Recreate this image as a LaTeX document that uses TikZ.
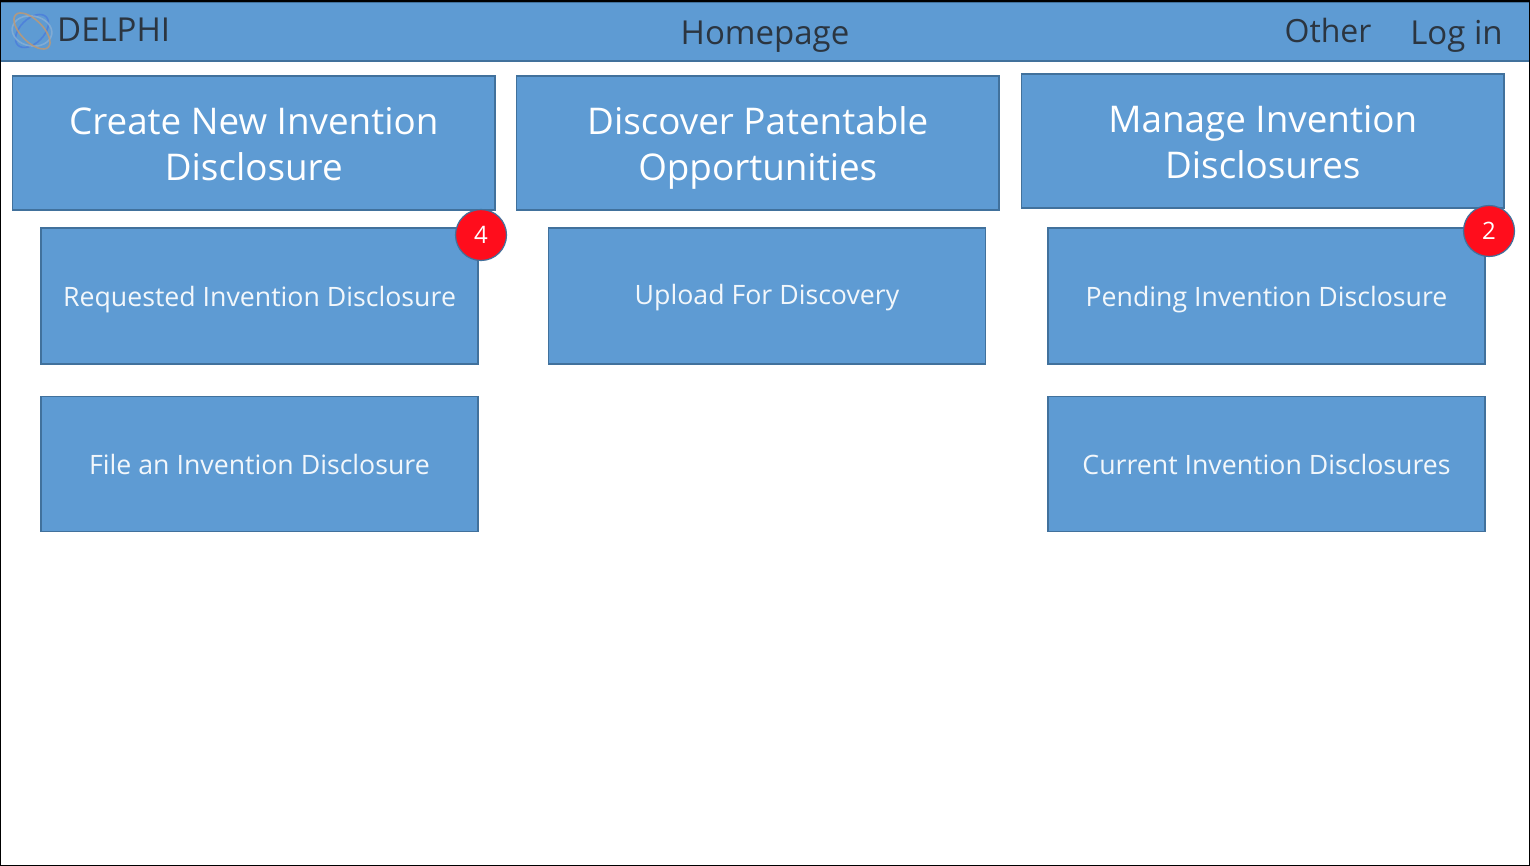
\documentclass[tikz,border=0pt]{standalone}
\usepackage{fontspec}
\setmainfont{Open Sans}
\usetikzlibrary{positioning}
\definecolor{tile}{HTML}{5E9BD3}
\definecolor{tileedge}{HTML}{41719C}
\definecolor{ink}{HTML}{2B3540}
\definecolor{badge}{HTML}{FF0D1C}
\tikzset{
  font=\rmfamily,
  bar/.style={draw=tileedge, line width=1.5pt, fill=tile, minimum width=1530pt, minimum height=59pt, inner sep=0pt},
  navlbl/.style={text=ink, inner sep=0pt, anchor=base, font=\fontsize{33}{40}\selectfont},
  headtile/.style={draw=tileedge, line width=1.5pt, fill=tile, minimum width=482.5pt, minimum height=134pt,
    inner sep=0pt, align=center, text=white, font=\fontsize{36.8}{46}\selectfont},
  subtile/.style={draw=tileedge, line width=1.5pt, fill=tile, minimum width=437pt, minimum height=136pt,
    inner sep=0pt, text height=30pt, text depth=8pt, text=white!92!tile, font=\fontsize{26.7}{32}\selectfont},
  count/.style={circle, draw=tileedge, line width=1.2pt, fill=badge, minimum size=51pt, inner sep=0pt,
    text=white, font=\fontsize{24}{28}\selectfont},
  ring/.style={line width=1.6pt, opacity=0.8},
}
% two heading lines, held so that the baselines sit as in the tiles
\newcommand{\headlines}[2]{\rule{0pt}{40pt}#1\\#2\rule[-10pt]{0pt}{10pt}}
\begin{document}
\begin{tikzpicture}[x=1pt, y=-1pt]
  \useasboundingbox (0,0) rectangle (1530,866);
  \fill[white] (0,0) rectangle (1530,866);

  % ---- top bar ----------------------------------------------------------
  \node[bar] (topbar) at (765,31.5) {};
  \draw[ring, draw=blue!20!tile] (32,31) ellipse [x radius=20, y radius=12, rotate=45];
  \draw[ring, draw=cyan!15!tile!75!white] (32,31) ellipse [x radius=20, y radius=15, rotate=-10];
  \draw[ring, draw=orange!40!gray!80!white] (32,31) ellipse [x radius=23, y radius=11, rotate=-45];
  \node[navlbl, anchor=base west] (logo) at (57,42) {DELPHI};
  \node[navlbl] (home) at (765,45) {Homepage};
  \node[navlbl, font=\fontsize{32}{40}\selectfont] (other) at (1328,43) {Other};
  \node[navlbl] (login) at (1456.5,45) {Log in};

  % ---- columns ----------------------------------------------------------
  \node[headtile] (create) at (253.75,143) {\headlines{Create New Invention}{Disclosure}};
  \node[headtile] (discover) at (757.75,143) {\headlines{Discover Patentable}{Opportunities}};
  \node[headtile] (manage) at (1262.75,141) {\headlines{Manage Invention}{Disclosures}};

  \node[subtile] (requested) at (259.5,296) {Requested Invention Disclosure};
  \node[subtile, minimum height=135pt, text height=28pt, below=31pt of requested] (file) {File an Invention Disclosure};
  \node[subtile, text height=26pt] (upload) at (767,296) {Upload For Discovery};
  \node[subtile] (pending) at (1266.5,296) {Pending Invention Disclosure};
  \node[subtile, minimum height=135pt, text height=28pt, below=31pt of pending] (current) {Current Invention Disclosures};

  % ---- badges -----------------------------------------------------------
  \node[count] (newcount) at (481,235) {4};
  \node[count] (pendcount) at (1489,231) {2};

  % ---- frame ------------------------------------------------------------
  \draw[black, line width=1.2pt] (0.6,866) -- (0.6,1) -- (1529.4,1) -- (1529.4,866);
  \draw[black, line width=2.5pt] (0,1) -- (1530,1);
  \draw[black, line width=1.2pt] (0,865.4) -- (1530,865.4);

\end{tikzpicture}
\end{document}
